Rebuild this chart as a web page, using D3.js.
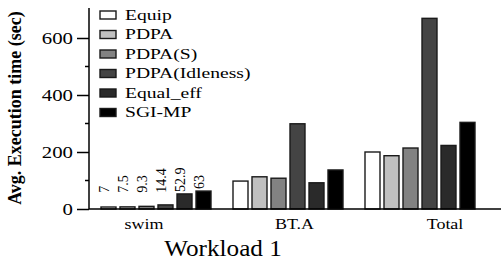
<!DOCTYPE html>
<html>
<head>
<meta charset="utf-8">
<script src="https://cdn.jsdelivr.net/npm/d3@7"></script>
<style>
  body { margin: 0; background: #fff; }
  text { font-family: "Liberation Serif", "Times New Roman", serif; fill: #000; }
</style>
</head>
<body>
<div id="chart"></div>
<script>
const groups = ["swim", "BT.A", "Total"];
const series = ["Equip", "PDPA", "PDPA(S)", "PDPA(Idleness)", "Equal_eff", "SGI-MP"];
const fills = ["#ffffff", "#c0c0c0", "#828282", "#444444", "#2a2a2a", "#000000"];

// avg execution time (sec) per group, one array per series
const equip     = [7,   98,  200];
const pdpa      = [7.5, 113, 187];
const pdpaS     = [9.3, 108, 214];
const pdpaIdle  = [14.4, 299, 669];
const equalEff  = [52.9, 92, 223];
const sgiMp     = [63,  137, 304];
const seriesValues = [equip, pdpa, pdpaS, pdpaIdle, equalEff, sgiMp];

// labels written above the swim bars
const swimLabels = ["7", "7.5", "9.3", "14.4", "52.9", "63"];

const majorTicks = [0, 200, 400, 600];
const minorTicks = [100, 300, 500];

const W = 501, H = 265;

const svg = d3.select("#chart").append("svg")
    .attr("width", W)
    .attr("height", H);

const y = d3.scaleLinear().domain([0, 700]).range([209, 9.5]);

const x0 = d3.scaleBand()
    .domain(groups)
    .range([101, 475])
    .paddingInner(22 / 132)
    .paddingOuter(0);

const x1 = d3.scaleBand()
    .domain(series)
    .range([0, x0.bandwidth()])
    .paddingInner(4 / 19);

// group labels sit on their own spacing, not centred under the bars
const xLabel = d3.scalePoint().domain(groups).range([144, 445]);

const rows = [];
groups.forEach((g, gi) => {
    series.forEach((s, si) => {
        rows.push({ group: g, series: s, si, value: seriesValues[si][gi] });
    });
});

// bars
svg.append("g").selectAll("rect")
    .data(rows)
    .join("rect")
    .attr("x", d => x0(d.group) + x1(d.series))
    .attr("y", d => y(d.value))
    .attr("width", x1.bandwidth())
    .attr("height", d => y(0) - y(d.value))
    .attr("fill", d => fills[d.si])
    .attr("stroke", "#1a1a1a")
    .attr("stroke-width", 1.4);

// value labels over swim
svg.append("g").selectAll("text")
    .data(rows.filter(d => d.group === "swim"))
    .join("text")
    .attr("transform", d => {
        const cx = x0(d.group) + x1(d.series) + x1.bandwidth() / 2 - 4;
        const cy = Math.min(y(d.value), y(50)) - 2;
        return `translate(${cx},${cy}) rotate(-90)`;
    })
    .attr("dy", "0.35em")
    .style("font-size", "14px")
    .text(d => swimLabels[d.si]);

// y axis
const yAxis = svg.append("g")
    .attr("transform", "translate(89,0)")
    .call(d3.axisLeft(y).tickValues(majorTicks).tickSize(12).tickFormat(d3.format("d")));

yAxis.select(".domain")
    .attr("d", `M0,${y(0)}V${y(705)}`)
    .attr("stroke-width", 1.5);
yAxis.selectAll(".tick line").attr("stroke-width", 1.5);
yAxis.selectAll(".tick text")
    .attr("x", null)
    .attr("dy", "0.35em")
    .attr("transform", "translate(-16,0) scale(1.3,1)")
    .style("font-size", "16px")
    .style("font-family", "'Liberation Serif', serif");

svg.append("g")
    .attr("transform", "translate(89,0)")
    .selectAll("line")
    .data(minorTicks)
    .join("line")
    .attr("x1", -4)
    .attr("x2", 0)
    .attr("y1", d => y(d))
    .attr("y2", d => y(d))
    .attr("stroke", "#000")
    .attr("stroke-width", 1.5);

// x axis line
svg.append("line")
    .attr("x1", 89)
    .attr("x2", W)
    .attr("y1", y(0))
    .attr("y2", y(0))
    .attr("stroke", "#000")
    .attr("stroke-width", 1.5);

svg.append("g").selectAll("text")
    .data(groups)
    .join("text")
    .attr("transform", d => `translate(${xLabel(d)},229) scale(1.2,1)`)
    .attr("text-anchor", "middle")
    .style("font-size", "15px")
    .text(d => d);

// axis titles
svg.append("text")
    .attr("transform", "translate(223,256) scale(1.05,1)")
    .attr("text-anchor", "middle")
    .style("font-size", "24px")
    .text("Workload 1");

svg.append("text")
    .attr("transform", "translate(15,108) rotate(-90)")
    .attr("text-anchor", "middle")
    .attr("dy", "0.35em")
    .style("font-size", "18px")
    .style("font-weight", "bold")
    .text("Avg. Execution time (sec)");

// legend
const legend = svg.append("g").selectAll("g")
    .data(series)
    .join("g")
    .attr("transform", (d, i) => `translate(100,${15 + i * 19.5})`);

legend.append("rect")
    .attr("x", 0)
    .attr("y", -4)
    .attr("width", 16)
    .attr("height", 8)
    .attr("fill", (d, i) => fills[i])
    .attr("stroke", "#1a1a1a")
    .attr("stroke-width", 1.4);

legend.append("text")
    .attr("transform", "translate(25,0) scale(1.4,1)")
    .attr("dy", "0.35em")
    .style("font-size", "14px")
    .text(d => d);
</script>
</body>
</html>
